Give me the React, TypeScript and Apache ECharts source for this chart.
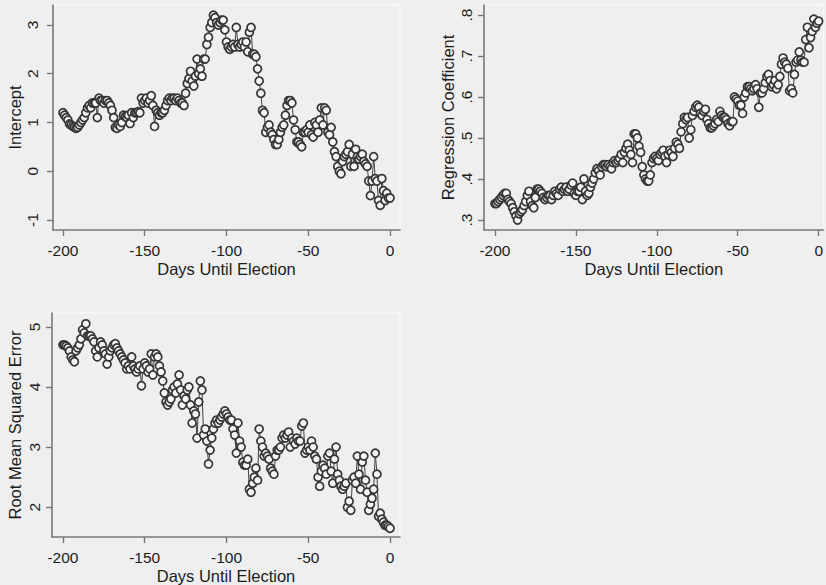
import React, { useEffect, useRef } from "react";
import * as echarts from "echarts";

const firstDay = -200;
const xTicks = [-200, -150, -100, -50, 0];
const xTitle = "Days Until Election";

const interceptTicks = [-1, 0, 1, 2, 3];
const interceptTickLabels = ["-1", "0", "1", "2", "3"];
const regTicks = [0.3, 0.4, 0.5, 0.6, 0.7, 0.8];
const regTickLabels = [".3", ".4", ".5", ".6", ".7", ".8"];
const rmseTicks = [2, 3, 4, 5];
const rmseTickLabels = ["2", "3", "4", "5"];

// values for days -200 .. 0
const intercept = [
  1.2, 1.15, 1.1, 1.05, 0.97, 0.95, 0.92, 0.9, 0.88, 0.9,
  0.95, 1.0, 1.05, 1.1, 1.2, 1.3, 1.35, 1.3, 1.4, 1.4,
  1.4, 1.1, 1.5, 1.45, 1.45, 1.4, 1.45, 1.45, 1.4, 1.35,
  1.25, 1.1, 0.9, 0.88, 0.95, 0.92, 1.0, 1.15, 1.12, 1.1,
  1.15, 0.98, 1.2, 1.1, 1.2, 1.2, 1.22, 1.2, 1.5, 1.4,
  1.45, 1.5, 1.4, 1.45, 1.55, 1.35, 0.92, 1.25, 1.2, 1.15,
  1.2, 1.2, 1.25, 1.35, 1.45, 1.5, 1.45, 1.5, 1.5, 1.45,
  1.5, 1.45, 1.4, 1.4, 1.35, 1.6, 1.8, 1.9, 2.05, 1.85,
  1.75, 1.95, 2.3, 2.0, 2.1, 1.95, 2.3, 2.3, 2.6, 2.75,
  2.95, 3.05, 3.2, 3.15, 3.05, 3.0, 3.05, 3.1, 3.1, 2.9,
  2.65, 2.55, 2.5, 2.55, 2.6, 2.55, 2.95, 2.6, 2.55, 2.6,
  2.65, 2.55, 2.65, 2.45, 2.85, 2.95, 2.4, 2.4, 2.35, 2.1,
  1.85, 1.6, 1.25, 1.2, 0.8, 0.9, 0.95, 0.8, 0.75, 0.65,
  0.55, 0.55, 0.65, 0.8, 0.9, 0.95, 1.15, 1.35, 1.45, 1.45,
  1.4, 1.05, 0.85, 0.6, 0.6, 0.55, 0.5, 0.8, 0.8, 0.85,
  0.8, 0.95, 0.75, 0.7, 1.0, 0.95, 0.8, 1.05, 1.3, 0.95,
  1.3, 1.25, 0.8, 0.75, 0.9, 0.6, 0.4, 0.3, 0.1, 0.0,
  -0.05, 0.2, 0.3, 0.35, 0.4, 0.55, 0.1, 0.35, 0.1, 0.45,
  0.3, 0.25, 0.3, 0.35, 0.2, 0.15, 0.1, -0.2, -0.5, -0.2,
  0.3, -0.15, -0.2, -0.6, -0.7, -0.15, -0.4, -0.6, -0.45, -0.55,
  -0.55,
];

const regression = [
  0.34, 0.34, 0.345, 0.35, 0.355, 0.36, 0.365, 0.365, 0.35, 0.345,
  0.34, 0.33, 0.32, 0.31, 0.3, 0.315, 0.32, 0.325, 0.335, 0.345,
  0.36, 0.37, 0.345, 0.335, 0.33, 0.355, 0.375, 0.375, 0.37, 0.365,
  0.355, 0.35, 0.355, 0.36, 0.36, 0.35, 0.36, 0.37, 0.365, 0.36,
  0.375, 0.38, 0.37, 0.375, 0.38, 0.37, 0.375, 0.385, 0.39, 0.365,
  0.36, 0.37, 0.37, 0.38, 0.35, 0.4, 0.37, 0.36, 0.365, 0.38,
  0.39, 0.4, 0.415, 0.425, 0.42, 0.41, 0.43, 0.435, 0.435, 0.43,
  0.435, 0.43, 0.425, 0.44, 0.445, 0.44, 0.445, 0.45, 0.46, 0.44,
  0.465, 0.475, 0.485, 0.47, 0.46, 0.44, 0.51, 0.51, 0.5, 0.48,
  0.465, 0.43, 0.41, 0.4, 0.395, 0.395, 0.41, 0.44, 0.45, 0.455,
  0.45, 0.445, 0.46, 0.465, 0.47, 0.455, 0.44, 0.46, 0.47, 0.465,
  0.455, 0.475, 0.49, 0.485, 0.475, 0.515, 0.535, 0.55, 0.545, 0.55,
  0.5, 0.52, 0.555, 0.565, 0.575, 0.58, 0.575, 0.56, 0.555, 0.565,
  0.57, 0.545, 0.535, 0.525, 0.525, 0.53, 0.535, 0.545, 0.54, 0.565,
  0.555, 0.55, 0.55, 0.545, 0.535, 0.53, 0.54, 0.54, 0.6, 0.595,
  0.59, 0.58, 0.58, 0.56, 0.6, 0.61, 0.625, 0.625, 0.62, 0.615,
  0.62, 0.63, 0.62, 0.575, 0.61, 0.61, 0.62, 0.635, 0.65, 0.655,
  0.64, 0.625, 0.63, 0.64, 0.62, 0.63, 0.65, 0.68, 0.695, 0.685,
  0.68, 0.67, 0.615, 0.62, 0.61, 0.655, 0.685, 0.69, 0.71, 0.69,
  0.685, 0.685, 0.74, 0.77, 0.72, 0.745, 0.76, 0.79, 0.77, 0.78,
  0.785,
];

const rmse = [
  4.7, 4.7, 4.68, 4.65, 4.6, 4.5, 4.45, 4.42, 4.6, 4.65,
  4.7, 4.8, 4.95, 4.9, 5.05, 4.85, 4.85, 4.85, 4.8, 4.75,
  4.6, 4.5, 4.65, 4.75, 4.7, 4.6, 4.55, 4.38, 4.5, 4.6,
  4.65, 4.7, 4.72, 4.65, 4.6, 4.55, 4.5, 4.45, 4.4, 4.3,
  4.35, 4.3, 4.5, 4.35, 4.3, 4.25, 4.3, 4.35, 4.02, 4.3,
  4.4, 4.35, 4.25, 4.3, 4.55, 4.2, 4.5, 4.55, 4.5, 4.35,
  4.25, 4.1, 3.9, 3.75, 3.7, 3.75, 3.8, 3.95, 4.0, 3.9,
  4.05, 4.2, 3.95, 3.7, 3.85, 3.8, 3.95, 4.0, 3.7, 3.4,
  3.6, 3.55, 3.15, 3.75, 4.1, 3.95, 3.2, 3.3, 3.1, 2.72,
  2.95, 3.15, 3.3, 3.4, 3.45, 3.4, 3.45, 3.5, 3.55, 3.6,
  3.55, 3.5, 3.45, 3.45, 3.3, 3.2, 2.9, 3.4, 3.1, 3.0,
  2.75, 2.7, 2.7, 2.8, 2.3, 2.25, 2.4, 2.5, 2.65, 2.45,
  3.3, 3.1, 3.0, 2.85, 2.9, 2.85, 2.8, 2.65, 2.6, 2.55,
  2.85, 2.95, 2.95, 3.0, 3.15, 3.2, 3.15, 3.2, 3.25, 3.0,
  3.15, 3.1, 3.05, 3.15, 3.1, 3.1, 3.35, 3.4, 2.9, 2.95,
  3.0, 2.95, 3.1, 3.0, 2.85, 2.8, 2.5, 2.35, 2.6, 2.7,
  2.65, 2.55, 2.85, 2.9, 2.6, 2.4, 2.8, 3.0, 2.55, 2.45,
  2.35, 2.3, 2.35, 2.4, 2.0, 2.1, 1.95, 2.45, 2.5, 2.4,
  2.85, 2.55, 2.3, 2.75, 2.85, 2.45, 2.25, 1.95, 2.05, 2.15,
  2.3, 2.9, 2.55, 1.85, 1.9, 1.8, 1.75, 1.7, 1.7, 1.68,
  1.65,
];

const FONT = "'Liberation Sans', Arial, Helvetica, sans-serif";
const TEXT = "#1c1c1c";
const AXIS = "#777777";

function pairs(values: number[]) {
  return values.map((v, i) => [firstDay + i, v]);
}

function labelFor(ticks: number[], labels: string[]) {
  return (v: number) => {
    let best = 0;
    for (let i = 0; i < ticks.length; i++) {
      if (Math.abs(ticks[i] - v) < Math.abs(ticks[best] - v)) best = i;
    }
    return labels[best];
  };
}

function xAxisDef(gridIndex: number, min: number, max: number) {
  return {
    type: "value",
    gridIndex,
    min,
    max,
    name: xTitle,
    nameLocation: "middle",
    nameGap: 30,
    nameTextStyle: { fontFamily: FONT, fontSize: 16.5, color: TEXT },
    axisLine: { show: true, onZero: false, lineStyle: { color: AXIS, width: 1.6 } },
    axisTick: { show: true, length: 6, customValues: xTicks, lineStyle: { color: AXIS, width: 1.4 } },
    axisLabel: {
      customValues: xTicks,
      margin: 12,
      fontFamily: FONT,
      fontSize: 15.5,
      color: TEXT,
      formatter: (v: number) => String(v),
    },
    splitLine: { show: false },
  };
}

function yAxisDef(
  gridIndex: number,
  min: number,
  max: number,
  name: string,
  ticks: number[],
  labels: string[],
  labelMargin: number,
  nameGap: number
) {
  return {
    type: "value",
    gridIndex,
    min,
    max,
    name,
    nameLocation: "middle",
    nameRotate: 90,
    nameGap,
    nameTextStyle: { fontFamily: FONT, fontSize: 16.5, color: TEXT },
    axisLine: { show: true, onZero: false, lineStyle: { color: AXIS, width: 1.6 } },
    axisTick: { show: true, length: 6, customValues: ticks, lineStyle: { color: AXIS, width: 1.4 } },
    axisLabel: {
      customValues: ticks,
      rotate: 90,
      margin: labelMargin,
      fontFamily: FONT,
      fontSize: 15.5,
      color: TEXT,
      formatter: labelFor(ticks, labels),
    },
    splitLine: { show: false },
  };
}

function seriesDef(index: number, values: number[]) {
  return {
    type: "line",
    xAxisIndex: index,
    yAxisIndex: index,
    data: pairs(values),
    symbol: "circle",
    symbolSize: 8,
    showSymbol: true,
    lineStyle: { color: "#404040", width: 1 },
    itemStyle: { color: "#f6f6f6", borderColor: "#363636", borderWidth: 1.7 },
    emphasis: { disabled: true },
    clip: false,
  };
}

export default function App() {
  const ref = useRef<HTMLDivElement>(null);

  useEffect(() => {
    if (!ref.current) return;
    const chart = echarts.init(ref.current, null, { renderer: "svg" });
    const gridStyle = { show: true, backgroundColor: "transparent", borderColor: "#fbfbfb", borderWidth: 1 };
    chart.setOption({
      animation: false,
      backgroundColor: "#efefef",
      grid: [
        { left: 53, top: 5, width: 347, height: 225, ...gridStyle },
        { left: 484, top: 5, width: 342, height: 225, ...gridStyle },
        { left: 52, top: 313, width: 348, height: 226, ...gridStyle },
      ],
      xAxis: [
        xAxisDef(0, -206.1, 6.1),
        xAxisDef(1, -206.75, 3.07),
        xAxisDef(2, -206.7, 6.1),
      ],
      yAxis: [
        yAxisDef(0, -1.205, 3.41, "Intercept", interceptTicks, interceptTickLabels, 13, 30),
        yAxisDef(1, 0.2756, 0.8244, "Regression Coefficient", regTicks, regTickLabels, 10, 28),
        yAxisDef(2, 1.505, 5.23, "Root Mean Squared Error", rmseTicks, rmseTickLabels, 10, 29),
      ],
      series: [seriesDef(0, intercept), seriesDef(1, regression), seriesDef(2, rmse)],
    });
    return () => chart.dispose();
  }, []);

  return (
    <div
      ref={ref}
      style={{ position: "absolute", left: 0, top: 0, width: 826, height: 585 }}
    />
  );
}
